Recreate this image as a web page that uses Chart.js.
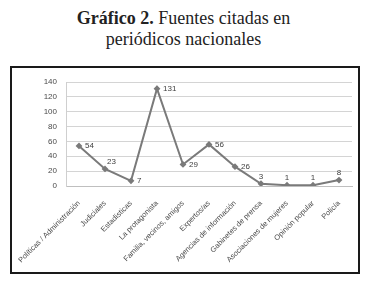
<!DOCTYPE html>
<html lang="es">
<head>
  <meta charset="UTF-8" />
  <title>Fuentes citadas en periódicos nacionales</title>
  <script src="https://cdn.jsdelivr.net/npm/chart.js"></script>
  <style>
    body { margin: 0; width: 367px; height: 281px; background: #fff; position: relative; overflow: hidden; }
    #title { position: absolute; top: 8px; left: 0; width: 367px; text-align: center;
             font-family: "Liberation Serif", "DejaVu Serif", serif; font-size: 18px; line-height: 21px; color: #222; }
    #box { position: absolute; left: 10px; top: 66px; width: 346px; height: 204px; border: 2px solid #1a1a1a; }
  </style>
</head>
<body>
  <div id="title"><b>Gráfico 2.</b> Fuentes citadas en<br>periódicos nacionales</div>
  <div id="box"><canvas id="lineChart" width="346" height="204"></canvas></div>

  <script>
    const categories = ['Políticas / Administración', 'Judiciales', 'Estadísticas', 'La protagonista',
      'Familia, vecinos, amigos', 'Expertos/as', 'Agencias de información', 'Gabinetes de prensa',
      'Asociaciones de mujeres', 'Opinión popular', 'Policía'];
    const values = [54, 23, 7, 131, 29, 56, 26, 3, 1, 1, 8];
    const yTicks = [0, 20, 40, 60, 80, 100, 120, 140];
    // where each value label sits relative to its point
    const labelPos = ['right', 'upright', 'right', 'right', 'right', 'right', 'right', 'above', 'above', 'above', 'above'];

    const pointLabels = {
      id: 'pointLabels',
      afterDatasetsDraw(chart) {
        const ctx = chart.ctx;
        const meta = chart.getDatasetMeta(0);
        ctx.save();
        ctx.font = '8px "Liberation Sans", Arial, sans-serif';
        ctx.fillStyle = '#404040';
        meta.data.forEach((pt, i) => {
          if (labelPos[i] === 'above') {
            ctx.textAlign = 'center';
            ctx.textBaseline = 'bottom';
            ctx.fillText(values[i], pt.x, pt.y - 3);
          } else if (labelPos[i] === 'upright') {
            ctx.textAlign = 'left';
            ctx.textBaseline = 'middle';
            ctx.fillText(values[i], pt.x + 2, pt.y - 7);
          } else {
            ctx.textAlign = 'left';
            ctx.textBaseline = 'middle';
            ctx.fillText(values[i], pt.x + 6, pt.y);
          }
        });
        ctx.restore();
      }
    };

    new Chart(document.getElementById('lineChart').getContext('2d'), {
      type: 'line',
      data: {
        labels: categories,
        datasets: [{
          data: values,
          borderColor: '#7a7a7a',
          backgroundColor: '#7a7a7a',
          borderWidth: 2,
          pointStyle: 'rectRot',
          pointRadius: 2,
          tension: 0
        }]
      },
      options: {
        responsive: false,
        animation: false,
        layout: { padding: { top: 14, right: 5, left: 0, bottom: 0 } },
        plugins: { legend: { display: false }, tooltip: { enabled: false } },
        scales: {
          x: {
            offset: true,
            grid: { display: false, drawTicks: false },
            border: { color: '#bfbfbf' },
            ticks: {
              minRotation: 45, maxRotation: 45, autoSkip: false, padding: 13,
              color: '#4a4a4a', font: { size: 7.5, family: '"Liberation Sans", Arial, sans-serif' }
            },
            afterFit(scale) {
              scale.height = 86;
              scale.paddingLeft = 0;
              scale.paddingRight = 0;
            }
          },
          y: {
            min: 0, max: 140,
            afterBuildTicks(scale) { scale.ticks = yTicks.map(v => ({ value: v })); },
            grid: { color: '#d4d4d4', drawTicks: false },
            border: { display: true, color: '#cfcfcf' },
            ticks: {
              padding: 9, color: '#4a4a4a',
              font: { size: 8, family: '"Liberation Sans", Arial, sans-serif' }
            },
            afterFit(scale) { scale.width = 54; }
          }
        }
      },
      plugins: [pointLabels]
    });
  </script>
</body>
</html>
